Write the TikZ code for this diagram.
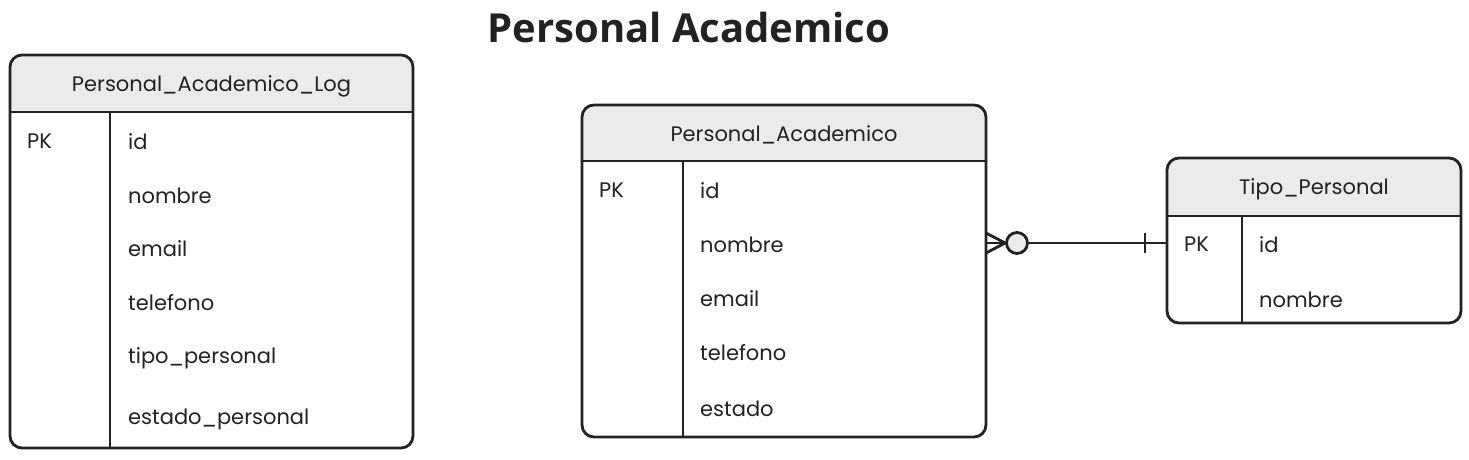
\documentclass[tikz,border=0pt]{standalone}
\usepackage{fontspec}
\setmainfont{Poppins}
\newfontfamily\titlefont{Open Sans}
\usetikzlibrary{positioning}

\definecolor{linea}{HTML}{222222}
\definecolor{cabecera}{HTML}{EBEBEB}

\tikzset{
	tabla/.style={draw=linea, line width=2.8pt, rounded corners=12pt},
	raya/.style={draw=linea, line width=2.8pt},
	campo/.style={anchor=west, inner sep=0pt, yshift=-1.5pt, text=linea, font=\fontsize{21}{25}\selectfont},
	titulo/.style={inner sep=0pt, yshift=-2pt, text=linea, font=\fontsize{21}{25}\selectfont},
}

\begin{document}
\begin{tikzpicture}[x=1pt,y=-1pt]
	\useasboundingbox[fill=white] (0,0) rectangle (1469,459);

	\node[inner sep=0pt, text=linea, font=\titlefont\bfseries\fontsize{40}{48}\selectfont] (titulo) at (689,27) {Personal Academico};

	% Personal_Academico_Log
	\begin{scope}
		\clip[rounded corners=12pt] (10,55) rectangle (413,448);
		\fill[cabecera] (10,55) rectangle (413,112);
	\end{scope}
	\draw[tabla] (10,55) rectangle (413,448);
	\draw[raya] (10,112) -- (413,112);
	\draw[raya] (110,112) -- (110,448);
	\node[titulo] (log) at (211.5,84) {Personal\_Academico\_Log};
	\node[campo] (log-pk) at (27,140) {PK};
	\node[campo] (log-id) at (128,140) {id};
	\node[campo] (log-nombre) at (128,194) {nombre};
	\node[campo] (log-email) at (128,247) {email};
	\node[campo] (log-telefono) at (128,301) {telefono};
	\node[campo] (log-tipo) at (128,357) {tipo\_personal};
	\node[campo] (log-estado) at (128,418) {estado\_personal};

	% Personal_Academico
	\begin{scope}
		\clip[rounded corners=12pt] (582,105) rectangle (986,437);
		\fill[cabecera] (582,105) rectangle (986,161);
	\end{scope}
	\draw[tabla] (582,105) rectangle (986,437);
	\draw[raya] (582,161) -- (986,161);
	\draw[raya] (683,161) -- (683,437);
	\node[titulo] (pa) at (784,133) {Personal\_Academico};
	\node[campo] (pa-pk) at (599,189) {PK};
	\node[campo] (pa-id) at (700,189) {id};
	\node[campo] (pa-nombre) at (700,243) {nombre};
	\node[campo] (pa-email) at (700,297) {email};
	\node[campo] (pa-telefono) at (700,351) {telefono};
	\node[campo] (pa-estado) at (700,407) {estado};

	% Tipo_Personal
	\begin{scope}
		\clip[rounded corners=12pt] (1167,158) rectangle (1461,323);
		\fill[cabecera] (1167,158) rectangle (1461,216);
	\end{scope}
	\draw[tabla] (1167,158) rectangle (1461,323);
	\draw[raya] (1167,216) -- (1461,216);
	\draw[raya] (1242,216) -- (1242,323);
	\node[titulo] (tp) at (1314,187) {Tipo\_Personal};
	\node[campo] (tp-pk) at (1184,243) {PK};
	\node[campo] (tp-id) at (1259,243) {id};
	\node[campo] (tp-nombre) at (1259,298) {nombre};

	% relacion: muchos (cero o mas) a uno
	\coordinate (pa-der) at (986,243);
	\coordinate (tp-izq) at (1167,243);
	\node[circle, draw=linea, line width=2.8pt, fill=cabecera, minimum size=21pt, inner sep=0pt] (cero) at (1017,243) {};
	\draw[raya] (cero.east) -- (tp-izq);
	\draw[raya] (cero.west) -- ([yshift=-10pt]pa-der);
	\draw[raya] (cero.west) -- ([yshift=10pt]pa-der);
	\draw[raya] (cero.west) -- (pa-der);
	\draw[raya] (1145,233) -- (1145,253);
\end{tikzpicture}
\end{document}
